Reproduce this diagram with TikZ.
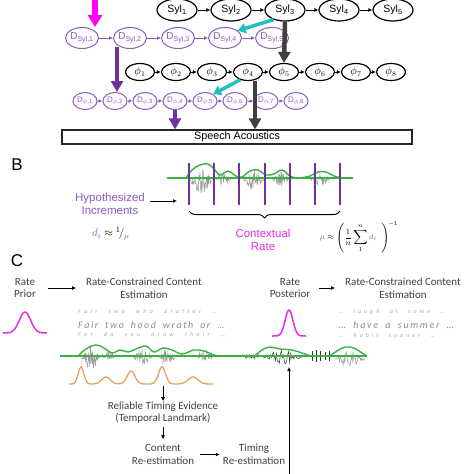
\documentclass[tikz,border=0pt]{standalone}
\usepackage{fontspec}
\setmainfont{Liberation Sans}
\newfontfamily\carl{Carlito}
\usetikzlibrary{shapes.geometric,arrows.meta,decorations.pathreplacing,calc}
\definecolor{dpur}{HTML}{8A5CC0}
\definecolor{apur}{HTML}{7030A0}
\definecolor{mag}{HTML}{FF00FF}
\definecolor{cmag}{HTML}{E030E0}
\definecolor{tealc}{HTML}{20C0C0}
\definecolor{dgray}{HTML}{404040}
\definecolor{wgreen}{HTML}{3CB043}
\definecolor{orng}{HTML}{EBA060}
\definecolor{wgray}{HTML}{9A9A9A}
\definecolor{tgray}{HTML}{8C8C8C}
\definecolor{tlight}{HTML}{A8A8A8}
\definecolor{ctext}{HTML}{404040}
\newcommand\wburst[5][wav]{\draw[#1] plot[domain=0:40,samples=41] ({#2+(#3-#2)*\x/40},{#5+#4*sin(4.5*\x)*rand});}
\ExplSyntaxOn
\NewDocumentCommand\spacedtext{mm}{
  \seq_set_split:Nnn \l_tmpa_seq {~} {#2}
  \seq_map_indexed_inline:Nn \l_tmpa_seq
    { \int_compare:nNnT {##1} > {1} { \hspace{#1} ~ \hspace{#1} }
      \tl_map_inline:nn {##2} { ####1 \kern#1 } }
}
\ExplSyntaxOff
\begin{document}
\begin{tikzpicture}[x=1pt,y=-1pt,
  syl/.style={ellipse,draw=black,line width=1.2pt,minimum width=40pt,minimum height=22pt,inner sep=0pt,font=\fontsize{10.5}{12}\selectfont},
  phin/.style={ellipse,draw=black,line width=1.2pt,minimum width=29pt,minimum height=17pt,inner sep=0pt,font=\fontsize{10.5}{12}\selectfont},
  dsyl/.style={ellipse,draw=dpur,line width=1pt,text=dpur,minimum width=30pt,minimum height=21pt,inner sep=0pt,font=\fontsize{10}{12}\selectfont},
  dphi/.style={ellipse,draw=dpur,line width=1pt,text=dpur,minimum width=24pt,minimum height=17pt,inner sep=0pt,font=\fontsize{8}{10}\selectfont},
  link/.style={-{Latex[length=4pt,width=4pt]},line width=0.8pt},
  plink/.style={link,draw=dpur},
  bigarrow/.style={line width=4.5pt,-{Triangle[length=11pt,width=12pt]}},
  tealarrow/.style={line width=3.5pt,draw=tealc,-{Triangle[length=8pt,width=10pt]}},
  magarrow/.style={line width=6pt,draw=mag,-{Triangle[length=12pt,width=14pt]}},
  wav/.style={draw=wgray,line width=0.5pt},
  dwav/.style={draw=black!80,line width=0.5pt},
  gline/.style={draw=wgreen,line width=1.4pt},
  vline/.style={draw=apur,line width=1.2pt},
  bell/.style={draw=cmag,line width=1.5pt},
  ctxt/.style={inner sep=0pt,align=center,text=ctext,font=\carl\fontsize{11}{12.8}\selectfont},
  gtxtb/.style={inner sep=0pt,anchor=west,text=tgray,font=\carl\itshape\fontsize{10}{12}\selectfont},
  gtxts/.style={inner sep=0pt,anchor=west,text=tlight,font=\carl\itshape\fontsize{6}{7}\selectfont}]
\useasboundingbox (0,0) rectangle (474,474);
\clip (0,0) rectangle (474,474);
\pgfmathsetseed{7}
% ---------------- A ----------------
\foreach \i/\xx in {1/177,2/231,3/285,4/339,5/393}
  \node[syl] (S\i) at (\xx,10) {Syl\textsubscript{\i}};
\foreach \i/\xx in {1/82,2/130,3/178,4/225,5/272}
  \node[dsyl] (DS\i) at (\xx,38) {D\textsubscript{Syl,\i}};
\foreach \i/\xx in {1/140,2/176,3/212,4/248,5/284,6/320,7/356,8/391}
  \node[phin] (P\i) at (\xx,72) {$\phi_{\i}$};
\foreach \i/\xx in {1/85,2/115,3/145,4/175,5/205,6/235,7/266,8/296}
  \node[dphi] (DP\i) at (\xx,101) {D\textsubscript{$\phi$,\i}};
\foreach \a/\b in {1/2,2/3,3/4,4/5} \draw[link] (S\a) -- (S\b);
\foreach \a/\b in {1/2,2/3,3/4,4/5} \draw[plink] (DS\a) -- (DS\b);
\foreach \a/\b in {1/2,2/3,3/4,4/5,5/6,6/7,7/8} \draw[link] (P\a) -- (P\b);
\foreach \a/\b in {1/2,2/3,3/4,4/5,5/6,6/7,7/8} \draw[plink] (DP\a) -- (DP\b);
\node[draw=black!85,line width=1.2pt,minimum width=350pt,minimum height=14pt,inner sep=0pt,font=\fontsize{10.8}{12}\selectfont] (box) at (237,137) {Speech Acoustics};
\coordinate (mtop) at (95,-4);
\draw[magarrow] (mtop) -- (mtop |- DS1.north);
\draw[tealarrow] (S3.220) -- (DS4.30);
\draw[tealarrow] (P4.225) -- (DP5.40);
\draw[bigarrow,draw=dgray] (S3.south) -- (P5.north);
\coordinate (p4s) at ($(P4.south)+(7,0)$);
\draw[bigarrow,draw=dgray] (p4s) -- (p4s |- box.north);
\coordinate (ds2s) at ($(DS2.south)+(-13,-2)$);
\draw[bigarrow,draw=apur] (ds2s) -- (ds2s |- DP2.north);
\draw[bigarrow,draw=apur] (DP4.south) -- (DP4.south |- box.north);
% ---------------- B ----------------
\node[inner sep=0pt,font=\fontsize{17}{17}\selectfont] (labB) at (17,165) {B};
\wburst{190}{212}{13}{181}
\wburst{213}{232}{6}{179}
\wburst{243}{264}{9}{180}
\wburst{272}{289}{7}{179}
\wburst{310}{330}{6}{179}
\draw[gline] (167,178) -- (353,178);
\draw[gline] plot[smooth,tension=0.6] coordinates {(186,178)(192,170)(200,165)(208,164)(214,169)(220,175)(228,171)(236,176)(242,177)(250,171)(258,170)(266,175)(274,174)(282,170)(290,176)(298,178)(310,176)(318,172)(326,172)(334,176)(342,178)};
\foreach \xx in {189,214,239,265,290,315,340} \draw[vline] (\xx,163) -- (\xx,205);
\draw[decorate,decoration={brace,amplitude=7pt,mirror},line width=1pt] (189,211) -- (340,211);
\node[inner sep=0pt,align=center,text=dpur,font=\fontsize{11.5}{13.5}\selectfont] (hyp) at (110,204) {Hypothesized\\Increments};
\coordinate (wavin) at (177,201);
\draw[link,shorten <=5pt] (hyp.east |- wavin) -- (wavin);
\node[inner sep=0pt,font=\fontsize{11}{12}\selectfont] (di) at (111,234) {$\textcolor{dpur}{d_i}\approx{}^{1}\!/_{\textcolor{dpur}{\mu}}$};
\node[inner sep=0pt,align=center,text=cmag,font=\fontsize{11.5}{13.5}\selectfont] (ctx) at (263,240) {Contextual\\Rate};
\node[inner sep=0pt,font=\fontsize{8.5}{10}\selectfont] (mu) at (359,237) {$\displaystyle\textcolor{dpur}{\mu}\approx\left(\frac{1}{n}\sum_{1}^{n}\textcolor{dpur}{d_i}\;\;\right)^{\!-1}$};
% ---------------- C ----------------
\node[inner sep=0pt,font=\fontsize{17}{17}\selectfont] (labC) at (17,261) {C};
\node[ctxt] (prior) at (25,288) {Rate\\Prior};
\node[ctxt] (cont1) at (144,288) {Rate-Constrained Content\\Estimation};
\draw[link] ([xshift=12]prior.east) -- ([xshift=-10]cont1.west);
\node[ctxt] (post) at (290,288) {Rate\\Posterior};
\node[ctxt] (cont2) at (403,288) {Rate-Constrained Content\\Estimation};
\draw[link] ([xshift=9]post.east) -- ([xshift=-10]cont2.west);
\draw[bell] plot[domain=3:47,samples=60] (\x,{333-21*exp(-((\x-25)/8)^2)});
\draw[bell] plot[domain=272:306,samples=50] (\x,{336-26*exp(-((\x-289)/5.5)^2)});
\node[gtxts] (l1) at (78,312) {\spacedtext{3.3pt}{Fair two who drafter …}};
\node[gtxtb] (l2) at (78,325) {\spacedtext{1.55pt}{Fair two hood wrath or …}};
\node[gtxts] (l3) at (78,335) {\spacedtext{3.3pt}{For do you draw their …}};
\node[gtxts] (r1) at (339,312) {\spacedtext{3pt}{… laugh at some …}};
\node[gtxtb] (r2) at (339,325) {\spacedtext{1.7pt}{… have a summer …}};
\node[gtxts] (r3) at (339,335) {\spacedtext{3pt}{… habit sooner …}};
% waveform C
\wburst{82}{100}{12}{358}
\wburst{100}{118}{5}{356}
\wburst{133}{152}{8}{357}
\wburst{158}{176}{7}{357}
\wburst{196}{214}{6}{356}
\wburst[dwav]{240}{262}{3}{356}
\wburst[dwav]{262}{303}{7}{357}
\foreach \xx/\hh in {312/5,316/6,320/5,325/4,329/5} \draw[draw=black!80,line width=0.8pt] (\xx,356-\hh) -- (\xx,356+\hh);
\wburst{335}{365}{8}{359}
\draw[gline] (60,356) -- (367,356);
\draw[gline] plot[smooth,tension=0.6] coordinates {(78,356)(86,349)(96,345)(104,348)(112,353)(120,350)(128,352)(136,349)(146,346)(154,352)(163,348)(172,350)(182,354)(194,350)(204,351)(214,355)(222,356)};
\draw[gline] plot[smooth,tension=0.6] coordinates {(255,356)(262,350)(270,347)(280,349)(292,350)(302,353)(310,356)};
\draw[gline] plot[smooth,tension=0.6] coordinates {(330,356)(337,351)(345,347)(354,348)(362,353)(367,356)};
% orange
\draw[draw=orng,line width=1.3pt] plot[domain=69:213,samples=150] (\x,{384-17*exp(-((\x-81)/4)^2)-7*exp(-((\x-106)/6)^2)-13*exp(-((\x-131)/5.5)^2)-17*exp(-((\x-162)/5)^2)-7*exp(-((\x-193)/7)^2)});
\draw[draw=orng,line width=0.8pt,dotted] (81,367) -- (81,357);
\draw[draw=orng,line width=0.8pt,dotted] (162,367) -- (162,357);
\coordinate (opk) at (163,386);
\node[ctxt] (rel) at (163,412.5) {Reliable Timing Evidence\\(Temporal Landmark)};
\draw[link] (opk) -- (opk |- rel.north);
\node[ctxt] (cnt) at (163,454.5) {Content\\Re-estimation};
\node[ctxt] (tim) at (254,454.5) {Timing\\Re-estimation};
\draw[link,shorten <=3pt,shorten >=5pt] (rel.south) -- (cnt.north);
\draw[link] ([xshift=6]cnt.east) -- ([xshift=-3]tim.west);
\coordinate (lb) at (289,480);
\coordinate (lt) at (289,367);
\draw[link] (lb) -- (lt);
\end{tikzpicture}
\end{document}
